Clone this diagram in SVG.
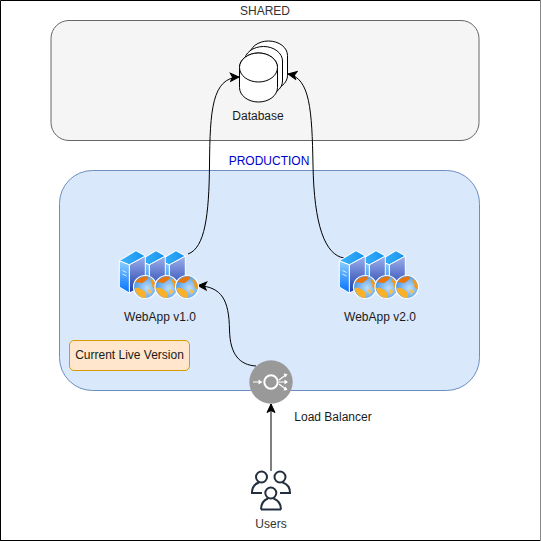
<svg xmlns="http://www.w3.org/2000/svg" xmlns:xlink="http://www.w3.org/1999/xlink" width="541" height="541" viewBox="0 0 541 541">
<style>
text{font-family:"Liberation Sans",Arial,sans-serif;font-size:12px;fill:#1a1a1a;text-anchor:middle}
.conn{fill:none;stroke:#000;stroke-width:1;marker-end:url(#arrow)}
.cyl{fill:#fff;stroke:#000;stroke-width:1}
.ic{fill:none;stroke:#232F3E;stroke-width:2}
.lb{fill:none;stroke:#fff;stroke-width:2}
.fan{fill:none;stroke:#fff;stroke-width:1.2}
</style>
<defs>
<marker id="arrow" markerUnits="userSpaceOnUse" markerWidth="11" markerHeight="11" refX="9.500" refY="5.500" orient="auto"><path d="M1 1.500L9.500 5.500L1 9.500L3 5.500Z" fill="#000" stroke="#000" stroke-width="1"/></marker>
<linearGradient id="srv" x1="0" y1="0" x2="0" y2="1"><stop offset="0" stop-color="#9DB2EE"/><stop offset="1" stop-color="#1C3AA8"/></linearGradient>
<linearGradient id="srvf" x1="0" y1="0" x2="0" y2="1"><stop offset="0" stop-color="#8FD0FF"/><stop offset="1" stop-color="#0070FF"/></linearGradient>
<linearGradient id="srvt" x1="0" y1="0" x2="1" y2="0"><stop offset="0" stop-color="#3FB4FA"/><stop offset="1" stop-color="#1593F0"/></linearGradient>
<radialGradient id="gl" cx="0.6" cy="0.55" r="0.6"><stop offset="0" stop-color="#BCDDF8"/><stop offset="1" stop-color="#4C97E4"/></radialGradient>
<g id="server">
<path d="M10.300 14.700L26.300 6V35L10.300 43Z" fill="url(#srv)" stroke="#fff"/>
<path d="M0.300 10.700L10.300 14.700V43L0.300 37Z" fill="url(#srvf)" stroke="#fff"/>
<path d="M0.300 10.700L17 0.700L26.300 6L10.300 14.700Z" fill="url(#srvt)" stroke="#fff"/>
</g>
<g id="globe">
<circle r="11.500" fill="url(#gl)" stroke="#fff" stroke-width="1.200"/>
<path d="M-9.500 -5C-7 -9 -2 -11 3 -10.500C4 -8 1 -7 -1 -5C-3 -3 -6 -5 -9.500 -5Z" fill="#E8760C"/>
<path d="M6 -8.500C9.500 -6 11 -2 11 2C8.500 2 6.500 0 7.500 -3C5.500 -4 5 -6 6 -8.500Z" fill="#F59A16"/>
<path d="M-10.500 1C-7 0 -3 2 0 5C2 7 1 10 0 11C-5 11 -10 6 -10.500 1Z" fill="#FBB02A"/>
<path d="M3 2L7.500 4L4 8Z" fill="#FBBF45"/>
</g>
<g id="webapp">
<use xlink:href="#server" x="40" y="0"/>
<use xlink:href="#server" x="20" y="0"/>
<use xlink:href="#server" x="0" y="0"/>
<use xlink:href="#globe" x="26" y="37"/>
<use xlink:href="#globe" x="47.500" y="37"/>
<use xlink:href="#globe" x="68" y="37"/>
<path d="M3.500 20.500L7.500 22.500M3.500 24L7.500 26" stroke="#D5EEFF" stroke-width="1" fill="none"/>
</g>
<g id="cyl">
<path class="cyl" d="M0 15a19 14.500 0 0 1 38 0V35a19 14.500 0 0 1 -38 0Z"/>
</g>
</defs>
<rect width="541" height="541" fill="#fff"/>
<path d="M0.500 541V0.500H541" fill="none" stroke="#000" stroke-width="1"/>
<path d="M0 540.500H541" stroke="#000" stroke-width="1"/>
<path d="M540.500 0V541" stroke="#888" stroke-width="1"/>
<g id="shared">
<rect x="51" y="20.500" width="428" height="120" rx="18" fill="#f5f5f5" stroke="#666"/>
<text x="265" y="15" style="fill:#333">SHARED</text>
</g>
<g id="production">
<rect x="59.500" y="170.500" width="420" height="220" rx="33" fill="#dae8fc" stroke="#6c8ebf"/>
<text x="269" y="165" style="fill:#0000CC">PRODUCTION</text>
</g>
<g id="connectors">
<path class="conn" d="M188 254C205 248 209 215 209.500 165C210 110 212 78 239 77"/>
<path class="conn" d="M344 258C325 255 314 225 313 165C312 110 310 78 288 74"/>
<path class="conn" d="M256 366C240 365 230 355 229.500 330C229 300 222 287 198 285.500"/>
<path class="conn" d="M271 471V404"/>
</g>
<g id="database">
<use xlink:href="#cyl" x="249.500" y="40.500"/>
<use xlink:href="#cyl" x="244.500" y="46"/>
<use xlink:href="#cyl" x="239.500" y="52.500"/>
<ellipse class="cyl" cx="258.500" cy="67.500" rx="19" ry="14.500"/>
<text x="258" y="120">Database</text>
</g>
<g id="webapp-v1">
<use xlink:href="#webapp" x="119" y="250"/>
<text x="160" y="321">WebApp v1.0</text>
</g>
<g id="webapp-v2">
<use xlink:href="#webapp" x="339" y="250"/>
<text x="380" y="321">WebApp v2.0</text>
</g>
<g id="current-live">
<rect x="69.500" y="340.500" width="120" height="30" rx="4.500" fill="#ffe6cc" stroke="#d79b00"/>
<text x="129.500" y="359">Current Live Version</text>
</g>
<g id="load-balancer">
<circle cx="271" cy="382" r="21.700" fill="#999"/>
<circle class="lb" cx="271" cy="382" r="6.700"/>
<path class="fan" d="M253 382H260M279 380L285 375.500M279 382H285M279 384L285 388.500"/>
<path d="M258.500 379.500L262.500 382L258.500 384.500Z M283.500 373.500L287.500 374L285.500 377.500Z M284.500 379.500L288 382L284.500 384.500Z M285.500 386.500L287.500 390L283.500 390.500Z" fill="#fff"/>
<text x="333" y="421">Load Balancer</text>
</g>
<g id="users">
<circle class="ic" cx="261.500" cy="477" r="5.500"/>
<circle class="ic" cx="280" cy="477" r="5.500"/>
<path class="ic" d="M259 482.500C254 484 252 488 252 493H262M282.500 482.500C287.500 484 290 488 290 493H280"/>
<circle class="ic" cx="270.800" cy="493" r="5.500"/>
<path class="ic" d="M261 509.500C261 503 264 500 268 498.500M273.500 498.500C277.500 500 281 503 281 509.500M261 509.500H281"/>
<text x="271" y="528" style="fill:#333">Users</text>
</g>
</svg>
